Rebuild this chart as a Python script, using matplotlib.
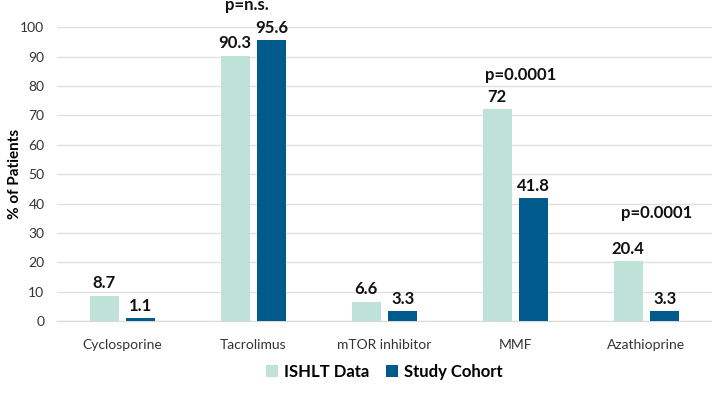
import numpy as np
import matplotlib
matplotlib.use("Agg")
import matplotlib.pyplot as plt

plt.rcParams['font.family'] = ['Lato', 'DejaVu Sans']

# -----------------------------------------------------------
# data
# -----------------------------------------------------------
categories = ["Cyclosporine", "Tacrolimus", "mTOR inhibitor", "MMF", "Azathioprine"]
ishlt = [8.7, 90.3, 6.6, 72, 20.4]
study = [1.1, 95.6, 3.3, 41.8, 3.3]
series_names = ["ISHLT Data", "Study Cohort"]

# p-value notes: (category index, x shift, y in data units, text)
p_notes = [
    (1, -0.05, 107.5, "p=n.s."),
    (3, 0.04, 83.7, "p=0.0001"),
    (4, 0.08, 36.7, "p=0.0001"),
]

LIGHT = "#bfe2d8"
DARK = "#005a8c"

fig = plt.figure(figsize=(7.12, 3.99), dpi=100)
ax = fig.add_axes([0.08, 0.195, 0.92, 0.737])

x = np.arange(len(categories))
w = 0.22
off = 0.14

b1 = ax.bar(x - off, ishlt, w, color=LIGHT, label=series_names[0], zorder=3)
b2 = ax.bar(x + off, study, w, color=DARK, label=series_names[1], zorder=3)

for bars, vals in [(b1, ishlt), (b2, study)]:
    for rect, v in zip(bars, vals):
        ax.text(rect.get_x() + rect.get_width() / 2, v + 1.5, f"{v:g}",
                ha="center", va="bottom", fontsize=12, fontweight="bold",
                color="#111111")

for i, dx, y, txt in p_notes:
    ax.text(x[i] + dx, y, txt, ha="center", va="center", fontsize=12,
            fontweight="bold", color="#111111", clip_on=False)

ax.set_xlim(-0.5, len(categories) - 0.5)
ax.set_ylim(0, 100)
ax.set_yticks(range(0, 101, 10))
ax.set_xticks(x)
ax.set_xticklabels(categories, fontsize=10)
ax.tick_params(axis="both", length=0, labelsize=10, colors="#333333")
ax.tick_params(axis="x", pad=13)
ax.tick_params(axis="y", pad=9)
ax.grid(axis="y", color="#e0e0e0", linewidth=1, zorder=0)
for s in ["top", "right", "left"]:
    ax.spines[s].set_visible(False)
ax.spines["bottom"].set_color("#d9d9d9")

ax.set_ylabel("% of Patients", fontsize=11, fontweight="bold")
ax.yaxis.set_label_coords(-0.053, 0.5)

fig.legend(handles=[b1, b2], labels=series_names, loc="center",
           bbox_to_anchor=(0.54, 0.068), ncol=2, frameon=False,
           prop={"size": 12, "weight": "bold"}, handlelength=0.7,
           handleheight=0.7, columnspacing=1.0, handletextpad=0.4)

fig.savefig("out.png", dpi=100)
